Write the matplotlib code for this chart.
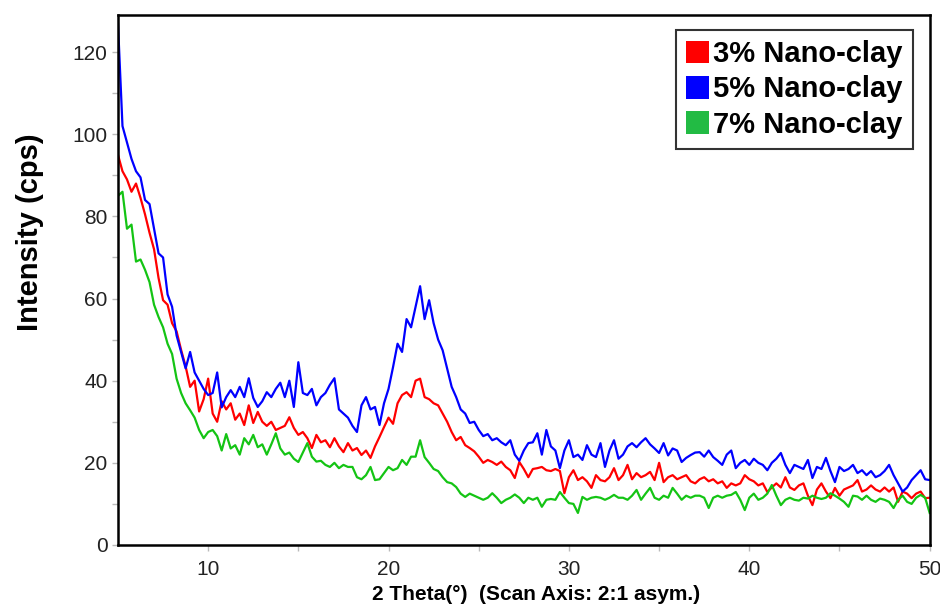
import numpy as np
import matplotlib
matplotlib.use("Agg")
import matplotlib.pyplot as plt
from matplotlib.patches import Patch

plt.rcParams['font.family'] = ['Liberation Sans', 'DejaVu Sans']

# 2-theta grid (degrees), 0.25 deg step from 5 to 50
two_theta = np.linspace(5, 50, 181)

nano3 = [95, 91, 89, 86, 88, 84.5, 80.5, 76, 72, 65, 59.6, 58.5, 54, 52, 47.5, 43.5,
         38.5, 40, 32.5, 35.5, 40.5, 32, 30, 35, 33, 34.5, 30.5, 32, 29.2, 34, 29.7, 32.4,
         30, 29, 30, 28, 28.5, 29, 31.1, 28.5, 26.8, 27.5, 26, 23.6, 26.8, 25, 25.5, 23.8,
         26, 24, 22.6, 24.8, 23, 23.6, 21.9, 23, 21.2, 24, 26.3, 28.7, 31, 29.5, 34.5, 36.5,
         37.2, 36, 40, 40.5, 36, 35.5, 34.5, 34, 32, 30, 27.5, 25.5, 26.3, 24.3, 23.6, 22.8,
         21.5, 20, 20.7, 20.2, 19.5, 20.3, 19, 18.2, 16.3, 20.2, 18.5, 16.5, 18.5, 18.7, 19, 18.2,
         18, 18.5, 18, 12.6, 16.5, 18.2, 15.8, 16.5, 15.5, 13.9, 17, 15.8, 15.5, 16.5, 18.7, 15.8,
         17, 19.5, 16, 17.5, 16.5, 17, 17.8, 15.8, 20, 15.3, 16.5, 17, 16, 16.5, 17, 15.5,
         15, 16, 16.5, 15.5, 16, 15, 15.5, 13.9, 15, 14.5, 15, 17, 16, 15.5, 14.5, 15,
         12.9, 14, 15, 14, 16.5, 14, 13.4, 14.5, 15, 12, 9.7, 13.5, 15, 13, 11.4, 13.9,
         12, 13.5, 14, 14.5, 15.8, 13, 13.5, 14.5, 13.5, 13, 14, 13, 14, 10.5, 13, 12.5,
         11.4, 12.5, 13, 11.4, 11.5]

nano5 = [127, 102, 98, 94, 91, 89.5, 84, 83, 77, 71, 70, 61, 58, 51, 47, 43,
         47, 42, 40, 38, 36.5, 37, 42, 33.5, 36, 37.7, 36, 38.5, 36, 40.6, 35.8, 33.6,
         35, 37.2, 36, 38, 39.5, 36, 40, 33.6, 44.5, 37, 36.5, 38, 34, 36, 37, 39,
         40.6, 33, 32, 31, 29, 27.5, 34, 36, 33, 33.6, 29.2, 34.5, 38, 43.3, 49, 47,
         55, 53, 58, 63, 55, 59.6, 54, 50, 47.4, 43, 38.5, 36, 33, 32, 29.7, 30,
         28, 26.5, 27, 25.5, 26, 25, 24.3, 25.5, 22, 20.5, 23, 24.8, 25, 27.2, 22, 28,
         24, 23, 18.7, 23, 25.5, 21.4, 22, 20.7, 24.3, 22, 21.4, 24.8, 19, 23, 25.5, 21,
         22, 24, 24.8, 23.8, 25, 26, 24.5, 23.5, 22.4, 24.8, 21.8, 23.5, 23, 20.2, 21.2, 21.9,
         22.5, 22.6, 21.5, 23, 21.4, 20.5, 19.5, 22, 23, 18.7, 20, 20.7, 19.5, 21, 20, 19.5,
         18.2, 20, 21, 22.4, 19.5, 17.5, 19.5, 19, 18.5, 20.7, 16.3, 19, 18.5, 21.2, 18, 15.3,
         19, 18, 18.5, 19.5, 17.5, 18.2, 17, 18, 16.5, 17, 18, 19.5, 17, 15, 13, 14,
         15.8, 17, 18.2, 16, 15.8]

nano7 = [85, 86, 77, 78, 69, 69.5, 67, 64, 58.5, 55.5, 53, 49, 46.5, 40.5, 37, 34.5,
         32.8, 31, 28, 26, 27.5, 28, 26.5, 23, 27, 23.5, 24.3, 22, 26, 24.5, 26.8, 23.8,
         24.5, 22, 24.5, 27.2, 23.5, 22, 22.5, 21, 20.2, 22.5, 24.8, 21.5, 20.3, 20.5, 19.5, 19,
         20, 18.7, 19.5, 19, 19, 16.5, 16, 17, 19, 15.8, 16, 17.5, 19, 18.2, 18.7, 20.7,
         19.5, 21.5, 21.5, 25.5, 21.4, 20, 18.5, 18, 16.5, 15.3, 15, 14.1, 12.5, 11.7, 12.5, 12,
         11.5, 11, 11.5, 12.6, 11.5, 10.2, 11, 11.5, 12.3, 11.5, 10.2, 11.5, 11, 11.5, 9.3, 11,
         11.2, 11, 12.9, 11.5, 10.2, 10, 7.8, 11.7, 11, 11.5, 11.7, 11.5, 11, 11.5, 12.2, 11.5,
         11.5, 11, 12, 13.4, 11, 12.5, 13.9, 11.5, 11, 12, 11.5, 13.9, 12.5, 11, 12, 11.5,
         12, 12, 11.5, 9, 11.5, 12, 11.5, 12, 12.2, 12.9, 11, 8.5, 11.5, 12.5, 11, 11.5,
         12.5, 14.6, 12, 9.7, 11, 11.5, 11, 10.8, 11.5, 11.3, 12, 11.5, 11.2, 11.5, 12.6, 12,
         11.3, 10.5, 9.3, 12, 11.8, 11, 12, 11, 10.5, 11.3, 11, 10.5, 9, 11, 12, 10.5,
         10, 11.5, 12.2, 11.5, 7.8]

labels = ['3% Nano-clay', '5% Nano-clay', '7% Nano-clay']
line_colors = ['#ff0000', '#0000ff', '#14c414']
legend_colors = ['#ff0000', '#0000ff', '#22bb44']

fig = plt.figure(figsize=(9.4, 6.06), dpi=100)
ax = fig.add_axes([0.1255, 0.1007, 0.8635, 0.8743])

ax.plot(two_theta, nano3, color=line_colors[0], lw=1.6)
ax.plot(two_theta, nano5, color=line_colors[1], lw=1.6)
ax.plot(two_theta, nano7, color=line_colors[2], lw=1.6)

ax.set_xlim(5, 50)
ax.set_ylim(0, 129)
ax.set_xticks([10, 20, 30, 40, 50])
ax.set_xticks([15, 25, 35, 45], minor=True)
ax.set_yticks([0, 20, 40, 60, 80, 100, 120])
ax.set_yticks([10, 30, 50, 70, 90, 110], minor=True)
ax.tick_params(which='both', direction='out', color='#bbbbbb', length=4, width=1,
               labelsize=15, labelcolor='#222222')
ax.tick_params(axis='x', which='major', pad=7)
for s in ax.spines.values():
    s.set_linewidth(1.8)
    s.set_color('black')

fig.text(30 / 940, 1 - 232 / 606, 'Intensity (cps)', fontsize=21, fontweight='bold',
         rotation=90, ha='center', va='center')
ax.set_xlabel('2 Theta(°)  (Scan Axis: 2:1 asym.)', fontsize=15, fontweight='bold', labelpad=5)
ax.xaxis.set_label_coords(0.515, -0.075)

handles = [Patch(facecolor=c, edgecolor='none') for c in legend_colors]
leg = ax.legend(handles, labels, loc='upper right', bbox_to_anchor=(0.979, 0.972),
                prop={'size': 21, 'weight': 'bold'}, frameon=True, fancybox=False,
                handlelength=0.8, handleheight=0.8, handletextpad=0.12,
                borderpad=0.35, labelspacing=0.25, borderaxespad=0)
leg.get_frame().set_edgecolor('black')
leg.get_frame().set_linewidth(1.5)

fig.savefig('out.png', dpi=100)
